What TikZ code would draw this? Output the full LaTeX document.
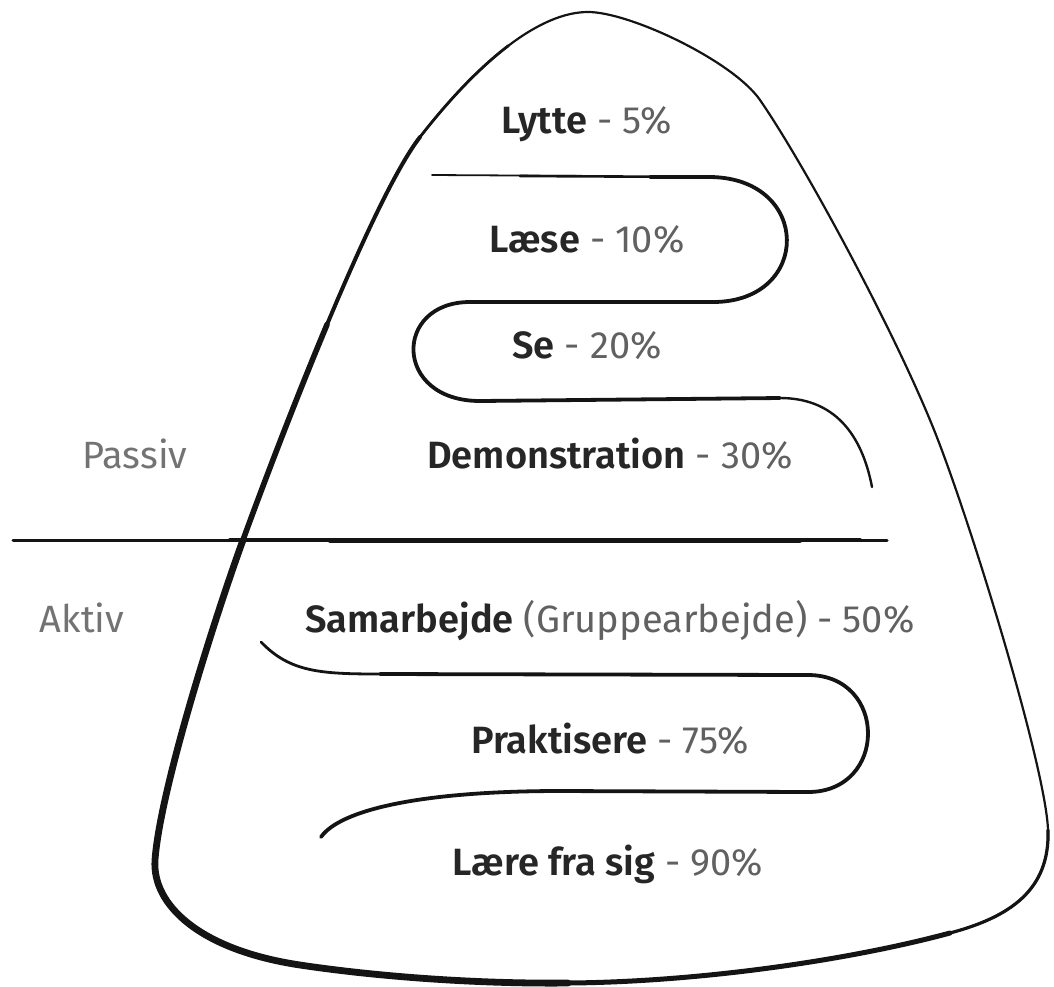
\documentclass[tikz,border=0pt]{standalone}
\usepackage{fontspec}
\setmainfont{Fira Sans}[BoldFont={Fira Sans SemiBold}]
\begin{document}
\begin{tikzpicture}[x=1pt,y=-1pt,
	lvl/.style={font=\fontsize{38}{44}\selectfont,text=black!62,anchor=base,inner sep=0pt},
	side/.style={font=\fontsize{38}{44}\selectfont,text=black!55,anchor=base,inner sep=0pt},
	ink/.style={black!92,line cap=round,line join=round}]
	\useasboundingbox (0,0) rectangle (1054,986);
	% outer bell
	\draw[ink,line width=2.2pt] (588,12) .. controls (540,12) and (480,60) .. (420,137)
		.. controls (372,199) and (279,441) .. (243,540)
		.. controls (215,617) and (160,790) .. (155,860)
		.. controls (152,905) and (200,950) .. (300,965)
		.. controls (380,977) and (480,984) .. (568,983)
		.. controls (700,982) and (850,960) .. (950,933)
		.. controls (1010,917) and (1050,890) .. (1048,830)
		.. controls (1046,770) and (976,539) .. (938,440)
		.. controls (900,341) and (805,165) .. (760,100)
		.. controls (733,61) and (630,12) .. (588,12) -- cycle;
	% heavier on the left and bottom
	\draw[ink,line width=2.8pt] (508.5,45.6) .. controls (480,67.25) and (450,98.5) .. (420,137);
	\draw[ink,line width=4pt] (420,137) .. controls (396,168) and (360.75,244) .. (327,324.6);
	\draw[ink,line width=5.6pt] (327,324.6) .. controls (293.25,405.25) and (261,490.5) .. (243,540);
	\draw[ink,line width=6.8pt] (243,540) .. controls (215,617) and (160,790) .. (155,860)
		.. controls (152,905) and (200,950) .. (300,965)
		.. controls (380,977) and (480,984) .. (568,983);
	\draw[ink,line width=5pt] (568,983) .. controls (700,982) and (850,960) .. (950,933);
	\draw[ink,line width=3.2pt] (950,933) .. controls (1010,917) and (1050,890) .. (1048,830);
	% divider
	\draw[ink,line width=3pt] (13,540)--(887,540);
	\draw[ink,line width=4pt] (230,540)--(860,540);
	\draw[ink,line width=5pt] (330,540)--(800,540);
	% passive snake
	\draw[ink,line width=1.8pt] (432,175) -- (600,176);
	\draw[ink,line width=2.6pt] (520,176) -- (710,177);
	\draw[ink,line width=3.8pt] (650,177) -- (710,177) .. controls (812,178) and (812,302) .. (713,302)
		-- (470,302) .. controls (393,302) and (393,401) .. (480,401) -- (780,398);
	\draw[ink,line width=2.4pt] (780,398) .. controls (835,398) and (862,435) .. (872,487);
	% active snake
	\draw[ink,line width=2.8pt] (261,642) .. controls (290,672) and (320,674) .. (380,674);
	\draw[ink,line width=3.8pt] (380,674) -- (808,675) .. controls (888,675) and (888,792) .. (808,792)
		-- (560,791) .. controls (420,791) and (340,810) .. (321,837);
	% labels
	\node[lvl] (lytte) at (587,133) {{\color{black!85}\textbf{Lytte}} - 5\%};
	\node[lvl] (laese) at (587,252) {{\color{black!85}\textbf{Læse}} - 10\%};
	\node[lvl] (se) at (587,358) {{\color{black!85}\textbf{Se}} - 20\%};
	\node[lvl] (demo) at (610,468) {{\color{black!85}\textbf{Demonstration}} - 30\%};
	\node[side] (passiv) at (135,468) {Passiv};
	\node[side] (aktiv) at (82,632) {Aktiv};
	\node[lvl] (samarb) at (610,632) {{\color{black!85}\textbf{Samarbejde}} (Gruppearbejde) - 50\%};
	\node[lvl] (prakt) at (610,753) {{\color{black!85}\textbf{Praktisere}} - 75\%};
	\node[lvl] (laere) at (608,875) {{\color{black!85}\textbf{Lære fra sig}} - 90\%};
\end{tikzpicture}
\end{document}
